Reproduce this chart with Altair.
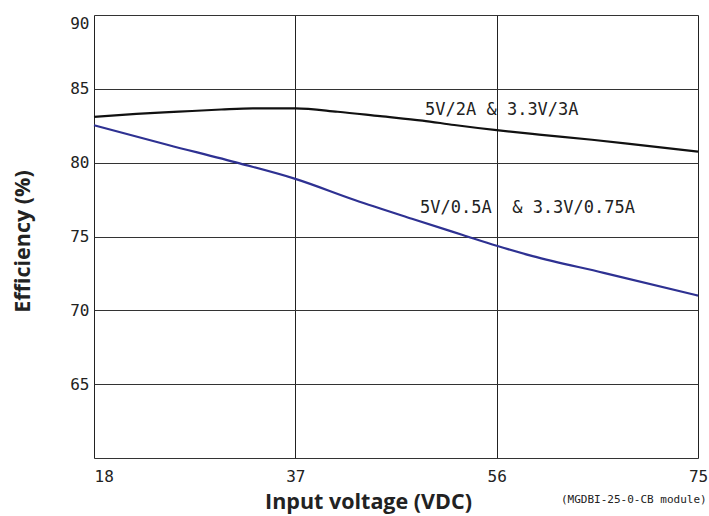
import altair as alt
import pandas as pd

# Series: 5V/2A & 3.3V/3A (black)
volt_a = [18, 22, 26, 30, 33, 37, 41, 45, 49, 52, 56, 60, 65, 70, 75]
eff_a = [83.1, 83.3, 83.45, 83.6, 83.68, 83.68, 83.45, 83.15, 82.85, 82.55, 82.2, 81.9, 81.55, 81.15, 80.75]

# Series: 5V/0.5A & 3.3V/0.75A (blue)
volt_b = [18, 25, 31.75, 37, 42.6, 48, 52.8, 56, 59.4, 66.1, 75]
eff_b = [82.53, 81.2, 79.95, 78.9, 77.47, 76.2, 75.1, 74.37, 73.67, 72.54, 71.0]

x_ticks = [18, 37, 56, 75]
y_ticks = [60, 65, 70, 75, 80, 85, 90]

label_text = ["5V/2A & 3.3V/3A", "5V/0.5A\u00a0\u00a0& 3.3V/0.75A"]
label_x = [49.24, 48.77]
label_y = [83.54, 76.9]

note = "(MGDBI-25-0-CB module)"

df = pd.concat([
    pd.DataFrame({"v": volt_a, "e": eff_a, "s": "a"}),
    pd.DataFrame({"v": volt_b, "e": eff_b, "s": "b"}),
])
lab = pd.DataFrame({"t": label_text, "v": label_x, "e": label_y})

xs = alt.Scale(domain=[18, 75], nice=False, zero=False)
ys = alt.Scale(domain=[60, 90], nice=False, zero=False)

x_axis = alt.Axis(
    values=x_ticks, title="Input voltage (VDC)", grid=True, gridColor="#222", gridWidth=1,
    domain=False, ticks=False, labelFont="DejaVu Sans Mono", labelFontSize=16,
    labelColor="#222", labelPadding=10, labelBaseline="top", labelFlush=False,
    labelAlign=alt.expr("datum.value == 18 ? 'left' : 'center'"),
    titleFont="Open Sans", titleFontWeight="bold", titleFontSize=21.5, titleColor="#222",
    titleX=274, titleY=50, titleAlign="center", titleBaseline="alphabetic",
)
y_axis = alt.Axis(
    values=y_ticks, title="Efficiency (%)", grid=True, gridColor="#333", gridWidth=1,
    domain=False, ticks=False, labelFont="DejaVu Sans Mono", labelFontSize=16,
    labelColor="#222", labelPadding=5,
    labelExpr="datum.value == 60 ? '' : datum.label",
    labelBaseline=alt.expr("datum.value == 90 ? 'top' : 'middle'"),
    titleFont="Open Sans", titleFontWeight="bold", titleFontSize=21.5, titleColor="#222",
    titleX=-71, titleY=226, titleAlign="center", titleBaseline="middle", titleAngle=270,
)

lines = alt.Chart(df).mark_line(strokeWidth=2.2, interpolate="monotone").encode(
    x=alt.X("v:Q", scale=xs, axis=x_axis),
    y=alt.Y("e:Q", scale=ys, axis=y_axis),
    color=alt.Color("s:N", scale=alt.Scale(domain=["a", "b"], range=["#111111", "#2e3192"]), legend=None),
)

labels = alt.Chart(lab).mark_text(
    align="left", baseline="middle", font="DejaVu Sans Mono", fontSize=17, color="#222"
).encode(x=alt.X("v:Q", scale=xs), y=alt.Y("e:Q", scale=ys), text="t:N")

foot = alt.Chart(pd.DataFrame({"t": [note]})).mark_text(
    align="left", baseline="middle", font="DejaVu Sans Mono", fontSize=11, color="#222"
).encode(x=alt.value(467), y=alt.value(485), text="t:N")

chart = alt.layer(lines, labels, foot).properties(
    width=604, height=443,
    autosize=alt.AutoSizeParams(type="none"),
    padding={"left": 94, "top": 15, "right": 11, "bottom": 58},
).configure_view(stroke="#111", strokeWidth=1.6).configure(background="white")

chart.save("out.html", embed_options={"renderer": "svg", "actions": False})
